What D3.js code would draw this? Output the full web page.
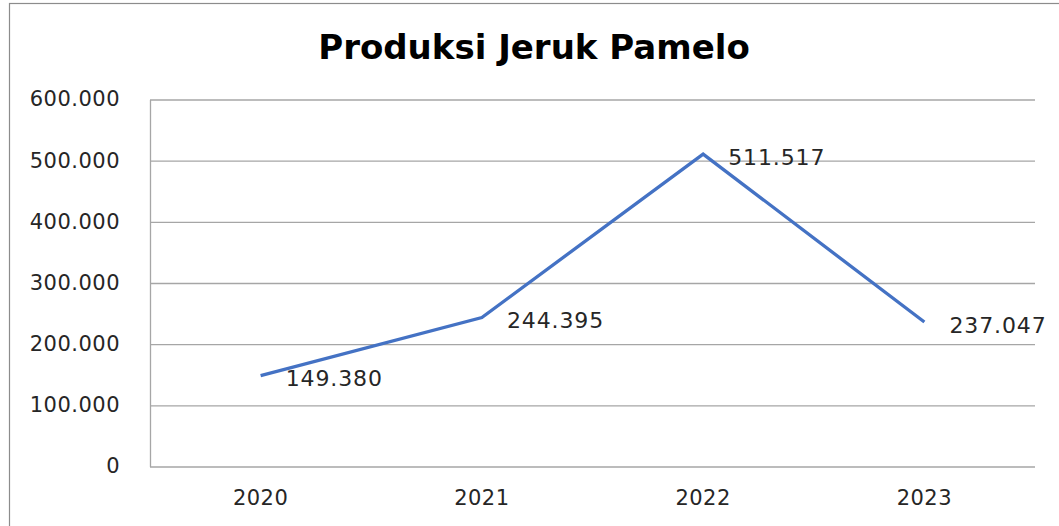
<!DOCTYPE html>
<html>
<head>
<meta charset="utf-8">
<script src="https://cdn.jsdelivr.net/npm/d3@7"></script>
<style>
  body { margin: 0; background: #fff; }
  text { font-family: "DejaVu Sans", sans-serif; fill: #262626; }
</style>
</head>
<body>
<div id="chart"></div>
<script>
// Chart data
const years = ["2020", "2021", "2022", "2023"];
const production = [149380, 244395, 511517, 237047];
const yTicks = [0, 100000, 200000, 300000, 400000, 500000, 600000];
const chartTitle = "Produksi Jeruk Pamelo";

const width = 1059, height = 526;
const margin = { top: 100, right: 24, bottom: 59, left: 150 };

// Indonesian number format (dot as thousands separator)
const locale = d3.formatLocale({ decimal: ",", thousands: ".", grouping: [3], currency: ["", ""] });
const fmt = locale.format(",");

const svg = d3.select("#chart")
    .append("svg")
    .attr("width", width)
    .attr("height", height);

// Outer chart border
svg.append("rect")
    .attr("x", 9.5)
    .attr("y", 3.5)
    .attr("width", width + 20)
    .attr("height", height + 20)
    .attr("fill", "none")
    .attr("stroke", "#8c8c8c")
    .attr("stroke-width", 1.2);

const x = d3.scalePoint()
    .domain(years)
    .range([margin.left, width - margin.right])
    .padding(0.5);

const y = d3.scaleLinear()
    .domain([0, 600000])
    .range([height - margin.bottom, margin.top]);

// Gridlines
svg.append("g")
    .selectAll("line")
    .data(yTicks)
    .enter().append("line")
    .attr("x1", margin.left)
    .attr("x2", width - margin.right)
    .attr("y1", d => y(d))
    .attr("y2", d => y(d))
    .attr("stroke", "#a6a6a6")
    .attr("stroke-width", 1.3);

// Vertical axis line
svg.append("line")
    .attr("x1", margin.left + 0.5)
    .attr("x2", margin.left + 0.5)
    .attr("y1", y(600000))
    .attr("y2", y(0))
    .attr("stroke", "#a6a6a6")
    .attr("stroke-width", 1.3);

// Y tick labels
svg.append("g")
    .selectAll("text")
    .data(yTicks)
    .enter().append("text")
    .attr("x", 120)
    .attr("y", d => y(d) - 1)
    .attr("dy", "0.35em")
    .attr("text-anchor", "end")
    .style("font-size", "21px")
    .style("letter-spacing", "0.5px")
    .text(d => fmt(d));

// X tick labels
svg.append("g")
    .selectAll("text")
    .data(years)
    .enter().append("text")
    .attr("x", d => x(d))
    .attr("y", 498)
    .attr("dy", "0.35em")
    .attr("text-anchor", "middle")
    .style("font-size", "21px")
    .style("letter-spacing", "0.4px")
    .text(d => d);

// Line
const line = d3.line()
    .x((d, i) => x(years[i]))
    .y(d => y(d));

svg.append("path")
    .datum(production)
    .attr("d", line)
    .attr("fill", "none")
    .attr("stroke", "#4472C4")
    .attr("stroke-width", 3.3)
    .attr("stroke-linejoin", "miter");

// Data labels
svg.append("g")
    .selectAll("text")
    .data(production)
    .enter().append("text")
    .attr("x", (d, i) => x(years[i]) + 25)
    .attr("y", d => y(d) + 3)
    .attr("dy", "0.35em")
    .style("font-size", "22px")
    .style("letter-spacing", "0.9px")
    .text(d => fmt(d));

// Title
svg.append("text")
    .attr("x", 534)
    .attr("y", 47)
    .attr("dy", "0.35em")
    .attr("text-anchor", "middle")
    .style("font-size", "34px")
    .style("font-weight", "bold")
    .style("fill", "#000")
    .text(chartTitle);
</script>
</body>
</html>
